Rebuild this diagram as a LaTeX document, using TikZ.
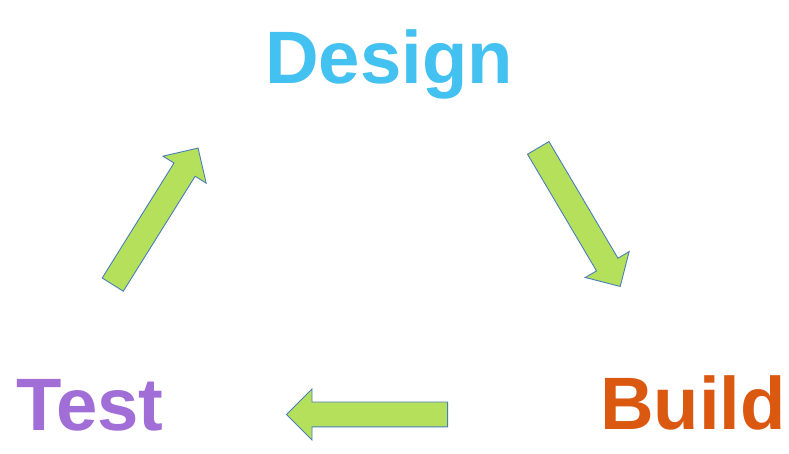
\documentclass[tikz,border=0pt]{standalone}
\usepackage{fontspec}
\setmainfont{Liberation Sans}
\usetikzlibrary{shapes.arrows}

\definecolor{designblue}{RGB}{67,193,240}
\definecolor{buildorange}{RGB}{218,88,16}
\definecolor{testpurple}{RGB}{160,110,214}
\definecolor{arrowgreen}{RGB}{181,224,92}
\definecolor{arrowedge}{RGB}{74,126,187}

\begin{document}
\begin{tikzpicture}[x=1pt,y=1pt,
    phase/.style={inner sep=0pt, anchor=base, font=\fontsize{74.3}{74.3}\selectfont\bfseries},
    blockarrow/.style={single arrow, draw=arrowedge, fill=arrowgreen, line width=0.9pt,
      inner xsep=0pt, inner ysep=12pt, minimum width=0pt, minimum height=161pt,
      single arrow head extend=13pt, anchor=tail}]
  \useasboundingbox (0,0) rectangle (789,454);

  \node[phase, text=designblue]  (design) at (389,370)   {Design};
  \node[phase, text=buildorange] (build)  at (693,24)    {Build};
  \node[phase, text=testpurple]  (test)   at (90,23)     {Test};

  \node[blockarrow, rotate=-59.4] (designtobuild) at (538,306.5) {};
  \node[blockarrow, rotate=180]   (buildtotest)   at (448,39.5)  {};
  \node[blockarrow, rotate=58]    (testtodesign)  at (112.5,169) {};

\end{tikzpicture}
\end{document}
